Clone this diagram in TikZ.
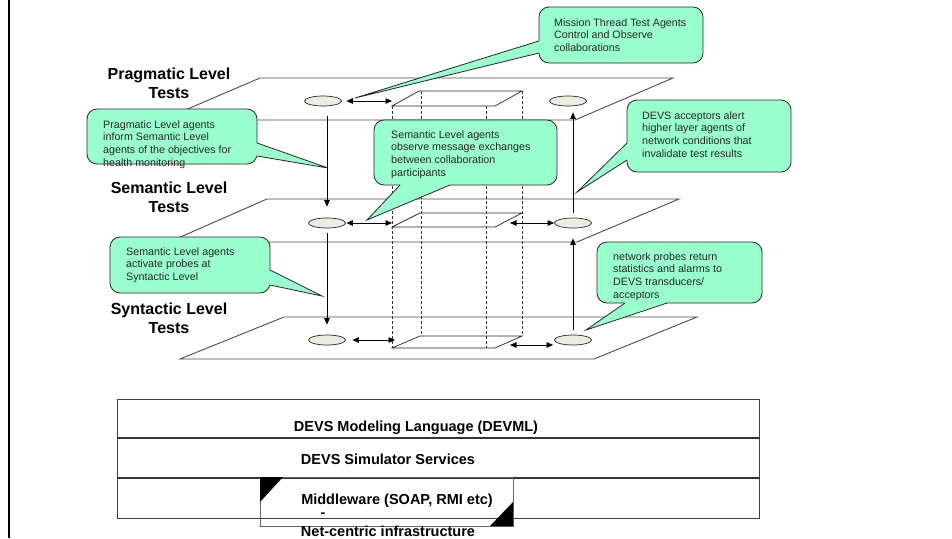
\documentclass[tikz,border=0pt]{standalone}
\usepackage{fontspec}
\setmainfont{Liberation Sans}
\usetikzlibrary{arrows.meta,shapes.geometric}
\definecolor{mint}{RGB}{153,255,204}
\definecolor{beige}{RGB}{236,236,224}
\newcommand{\tl}[1]{\begin{tabular}[t]{@{}l@{}}#1\end{tabular}}
\newcommand{\tc}[1]{\begin{tabular}[t]{@{}c@{}}#1\end{tabular}}
\begin{document}
\begin{tikzpicture}[x=1pt,y=-1pt,
  plane/.style={draw=black!70,line width=0.9pt,line join=miter},
  cube/.style={draw=black!85,line width=0.7pt},
  guide/.style={draw=black!80,line width=0.7pt,dash pattern=on 3pt off 2pt},
  tip/.tip={Triangle[length=6.5pt,width=5.5pt]},
  arr/.style={draw=black,line width=0.8pt,-tip},
  darr/.style={draw=black,line width=0.8pt,tip-tip},
  elli/.style={ellipse,draw=black!85,fill=beige,line width=0.7pt,minimum width=37pt,minimum height=10pt,inner sep=0pt},
  bbox/.style={draw=black!85,fill=mint,line width=0.8pt,rounded corners=10pt,inner sep=0pt},
  tailline/.style={draw=black!85,line width=0.8pt,line join=miter},
  btext/.style={anchor=base west,inner sep=0pt,font=\fontsize{10.7}{12.8}\selectfont,text=black!85},
  lvl/.style={anchor=base,inner sep=0pt,font=\fontsize{16}{19}\selectfont\bfseries},
  tbl/.style={anchor=base,inner sep=0pt,font=\fontsize{14.5}{17}\selectfont\bfseries},
]
\useasboundingbox (0,0) rectangle (952,538);
\fill[white] (0,0) rectangle (952,538);
% left border
\draw[line width=1.6pt] (9,0) -- (9,538);

% planes
\draw[plane] (260,78) -- (673,78) -- (575,120) -- (162,120) -- cycle;
\draw[plane] (267,199) -- (679,199) -- (577,242) -- (169,242) -- cycle;
\draw[plane] (284,317) -- (697,317) -- (594,359) -- (180,359) -- cycle;

% cube coordinates
\coordinate (a1) at (392,106); \coordinate (b1) at (419,91); \coordinate (c1) at (522,91); \coordinate (d1) at (495,106);
\coordinate (a2) at (392,227); \coordinate (b2) at (420,213); \coordinate (c2) at (522,213); \coordinate (d2) at (495,227);
\coordinate (a3) at (392,348); \coordinate (b3) at (420,336); \coordinate (c3) at (522,336); \coordinate (d3) at (495,348);
\draw[cube] (a1) -- (b1) -- (c1) -- (d1) -- cycle;
\draw[cube] (a2) -- (b2) -- (c2) -- (d2) -- cycle;
\draw[cube] (a3) -- (b3) -- (c3) -- (d3) -- cycle;
\draw[guide] (a1) -- (a3);
\draw[guide] (421,91) -- (421,336);
\draw[guide] (486,106) -- (486,348);
\draw[guide] (c1) -- (c3);

% ellipses
\node[elli] (pL) at (323,101) {};
\node[elli] (pR) at (568,101) {};
\node[elli] (sL) at (327,223) {};
\node[elli] (sR) at (573,223) {};
\node[elli] (yL) at (327,340) {};
\node[elli] (yR) at (573,340) {};

% vertical arrows
\draw[arr, shorten <=10pt, shorten >=11pt] (sL.north |- pL.south) -- (sL.north);
\draw[arr, shorten <=5pt, shorten >=10pt] (sL.south) -- (yL.north);
\draw[arr, shorten <=5pt, shorten >=10pt] (yR.north) -- (sR.south);
\draw[arr, shorten <=5pt, shorten >=6pt] (sR.north) -- (sR.north |- pR.south);

% horizontal double arrows
\coordinate (hp) at (392,101);
\coordinate (hsl) at (392,223);
\coordinate (hsr) at (510,223);
\coordinate (hyl) at (395,340);
\coordinate (hyr) at (510,345);
\draw[darr, shorten <=4.5pt] (pL.east) -- (hp);
\draw[darr, shorten <=0.5pt] (sL.east) -- (hsl);
\draw[darr] (hsr) -- (sR.west);
\draw[darr, shorten <=6.5pt] (yL.east) -- (hyl);
\draw[darr, shorten >=1pt] (hyr) -- (yR.west |- hyr);

% level labels
\node[lvl] (lp) at (169,79) {\tc{Pragmatic Level\\Tests}};
\node[lvl] (ls) at (169,193) {\tc{Semantic Level\\Tests}};
\node[lvl] (ly) at (169,314) {\tc{Syntactic Level\\Tests}};

% bubble 1: mission thread
\node[bbox, minimum width=164pt, minimum height=56pt] (m1) at (621,35) {};
\fill[mint] (355,98) -- (539,41) -- (543,41) -- (543,53) -- (539,53) -- cycle;
\draw[tailline] (539,41) -- (355,98) -- (539,53);
\node[btext] (m1t) at (554,26) {\tl{Mission Thread Test Agents\\Control and Observe\\collaborations}};

% bubble 2: pragmatic agents
\node[bbox, minimum width=170pt, minimum height=55pt] (m2) at (172,136.5) {};
\fill[mint] (328,168) -- (257,143) -- (253,143) -- (253,156) -- (257,156) -- cycle;
\draw[tailline] (257,143) -- (328,168) -- (257,156);
\node[btext] (m2t) at (103,128) {\tl{Pragmatic Level agents\\inform Semantic Level\\agents of the objectives for\\health monitoring}};

% bubble 3: semantic observe
\node[bbox, minimum width=183pt, minimum height=65pt] (m3) at (465.5,152.5) {};
\fill[mint] (367,220) -- (400,185) -- (400,181) -- (450,181) -- (450,185) -- cycle;
\draw[tailline] (400,185) -- (367,220) -- (450,185);
\node[btext] (m3t) at (391,138) {\tl{Semantic Level agents\\observe message exchanges\\between collaboration\\participants}};

% bubble 4: DEVS acceptors
\node[bbox, minimum width=164pt, minimum height=72pt] (m4) at (709,136) {};
\fill[mint] (577,192) -- (627,143) -- (631,143) -- (631,160) -- (627,160) -- cycle;
\draw[tailline] (627,143) -- (577,192) -- (627,160);
\node[btext] (m4t) at (642,119) {\tl{DEVS acceptors alert\\higher layer agents of\\network conditions that\\invalidate test results}};

% bubble 5: semantic activate
\node[bbox, minimum width=160pt, minimum height=56pt] (m5) at (190,265) {};
\fill[mint] (322,296) -- (270,270) -- (266,270) -- (266,285) -- (270,285) -- cycle;
\draw[tailline] (270,270) -- (322,296) -- (270,285);
\node[btext] (m5t) at (126,255) {\tl{Semantic Level agents\\activate probes at\\Syntactic Level}};

% bubble 6: network probes
\node[bbox, minimum width=165pt, minimum height=61pt] (m6) at (679.5,272.5) {};
\fill[mint] (586,330) -- (625,303) -- (625,299) -- (667,299) -- (667,303) -- cycle;
\draw[tailline] (625,303) -- (586,330) -- (667,303);
\node[btext] (m6t) at (613,260) {\tl{network probes return\\statistics and alarms to\\DEVS transducers/\\acceptors}};

% bottom table
\draw[draw=black!75, line width=1pt] (117,399) rectangle (759,518);
\draw[draw=black!80, line width=1.5pt] (117,438) -- (759,438);
\draw[draw=black!80, line width=1.5pt] (117,478) -- (759,478);
\node[tbl] (t1) at (416,431.5) {DEVS Modeling Language (DEVML)};
\node[tbl] (t2) at (388,464) {DEVS Simulator Services};
% middleware overlay
\draw[draw=black!60, line width=0.6pt] (260,477) rectangle (513,526);
\fill[black] (260,477) -- (283,477) -- (260,502) -- cycle;
\fill[black] (513,526) -- (490,526) -- (513,502) -- cycle;
\node[tbl] (t3) at (397,504) {Middleware (SOAP, RMI etc)};
\node[tbl] (t4) at (323,517) {-};
\node[tbl] (t5) at (388,536) {Net-centric infrastructure};
\end{tikzpicture}
\end{document}
